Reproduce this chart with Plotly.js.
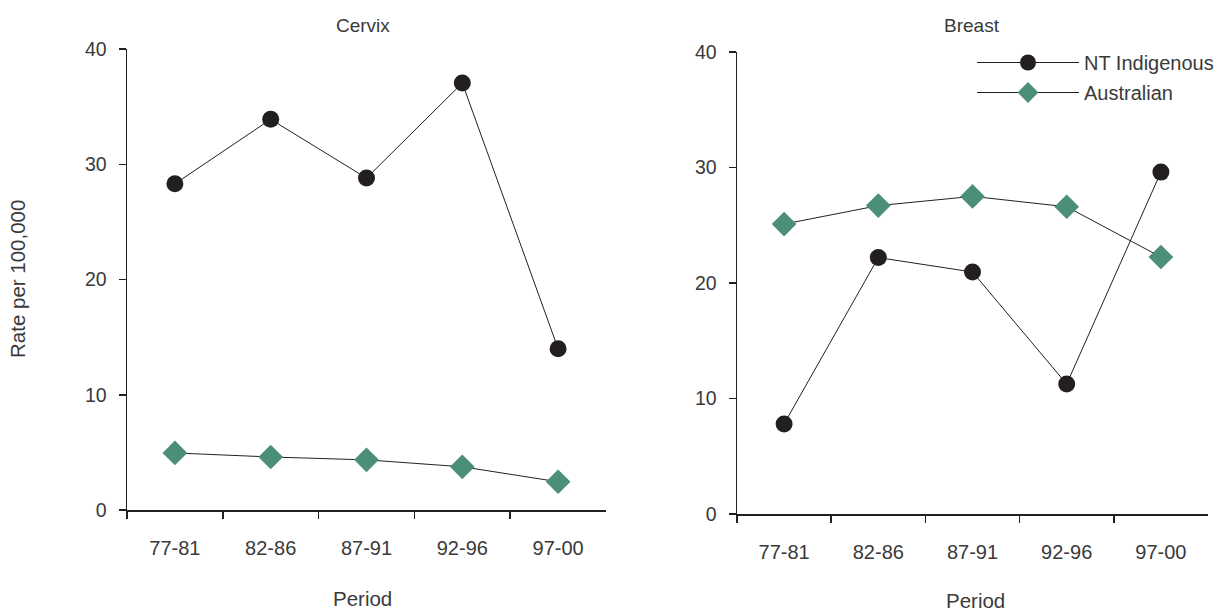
<!DOCTYPE html>
<html>
<head>
<meta charset="utf-8">
<script src="https://cdn.plot.ly/plotly-3.0.1.min.js"></script>
<style>html,body{margin:0;padding:0;background:#fff;}#chart{width:1227px;height:612px;}</style>
</head>
<body>
<div id="chart"></div>
<script>
const periods = ["77-81", "82-86", "87-91", "92-96", "97-00"];
const cervixNT = [28.3, 33.9, 28.8, 37.05, 14.0];
const cervixAus = [4.95, 4.6, 4.35, 3.75, 2.45];
const breastNT = [7.8, 22.2, 20.95, 11.25, 29.6];
const breastAus = [25.1, 26.7, 27.5, 26.6, 22.25];

const ink = "#231f20";
const green = "#4b8f78";
const txt = "#3a3a3a";
const fontFam = "Liberation Sans, Arial, sans-serif";

const ntMarker = {symbol: "circle", size: 17, color: ink, line: {width: 0}};
const ausMarker = {symbol: "diamond", size: 19, color: green, line: {width: 0}};
const lineStyle = {color: ink, width: 1};

const traces = [
  {x: periods, y: cervixNT, xaxis: "x", yaxis: "y", mode: "lines+markers", name: "NT Indigenous", legendgroup: "nt", marker: ntMarker, line: lineStyle, showlegend: false},
  {x: periods, y: cervixAus, xaxis: "x", yaxis: "y", mode: "lines+markers", name: "Australian", legendgroup: "aus", marker: ausMarker, line: lineStyle, showlegend: false},
  {x: periods, y: breastNT, xaxis: "x2", yaxis: "y2", mode: "lines+markers", name: "NT Indigenous", legendgroup: "nt", marker: ntMarker, line: lineStyle},
  {x: periods, y: breastAus, xaxis: "x2", yaxis: "y2", mode: "lines+markers", name: "Australian", legendgroup: "aus", marker: ausMarker, line: lineStyle}
];

const xBase = {
  type: "category", range: [-0.5, 4.5], tickson: "boundaries",
  showline: true, linecolor: ink, linewidth: 1.5, ticks: "outside", ticklen: 7, tickwidth: 1.5, tickcolor: ink,
  showgrid: false, zeroline: false, ticklabelstandoff: 19,
  tickfont: {family: fontFam, size: 20, color: txt}, fixedrange: true
};
const yBase = {
  range: [0, 40], tickvals: [0, 10, 20, 30, 40],
  showline: true, linecolor: ink, linewidth: 1.5, ticks: "outside", ticklen: 7, tickwidth: 1.5, tickcolor: ink,
  showgrid: false, zeroline: false, ticklabelstandoff: 8,
  tickfont: {family: fontFam, size: 19.5, color: txt}, fixedrange: true
};

const layout = {
  width: 1227, height: 612,
  margin: {l: 0, r: 0, t: 0, b: 0},
  paper_bgcolor: "#fff", plot_bgcolor: "#fff",
  showlegend: true,
  legend: {x: 972/1227, y: 1 - 43/612, xanchor: "left", yanchor: "top", bgcolor: "rgba(0,0,0,0)",
    font: {family: fontFam, size: 20, color: txt}, traceorder: "grouped", tracegroupgap: 1, itemwidth: 102},
  xaxis: Object.assign({}, xBase, {domain: [127/1227, 606/1227], anchor: "y"}),
  yaxis: Object.assign({}, yBase, {domain: [102/612, 563/612], anchor: "x"}),
  xaxis2: Object.assign({}, xBase, {domain: [737/1227, 1208/1227], anchor: "y2"}),
  yaxis2: Object.assign({}, yBase, {domain: [98/612, 560/612], anchor: "x2"}),
  annotations: [
    {text: "Cervix", xref: "paper", yref: "paper", x: 363/1227, y: 1 - 26/612, showarrow: false, xanchor: "center", yanchor: "middle", font: {family: fontFam, size: 19, color: txt}},
    {text: "Breast", xref: "paper", yref: "paper", x: 972/1227, y: 1 - 26/612, showarrow: false, xanchor: "center", yanchor: "middle", font: {family: fontFam, size: 19, color: txt}},
    {text: "Period", xref: "paper", yref: "paper", x: 363/1227, y: 1 - 598/612, showarrow: false, xanchor: "center", yanchor: "middle", font: {family: fontFam, size: 20.5, color: txt}},
    {text: "Period", xref: "paper", yref: "paper", x: 975/1227, y: 1 - 600/612, showarrow: false, xanchor: "center", yanchor: "middle", font: {family: fontFam, size: 20.5, color: txt}},
    {text: "Rate per 100,000", xref: "paper", yref: "paper", x: 18/1227, y: 1 - 279/612, showarrow: false, textangle: -90, xanchor: "center", yanchor: "middle", font: {family: fontFam, size: 20.5, color: txt}}
  ]
};

Plotly.newPlot("chart", traces, layout, {displayModeBar: false, staticPlot: true});
</script>
</body>
</html>
